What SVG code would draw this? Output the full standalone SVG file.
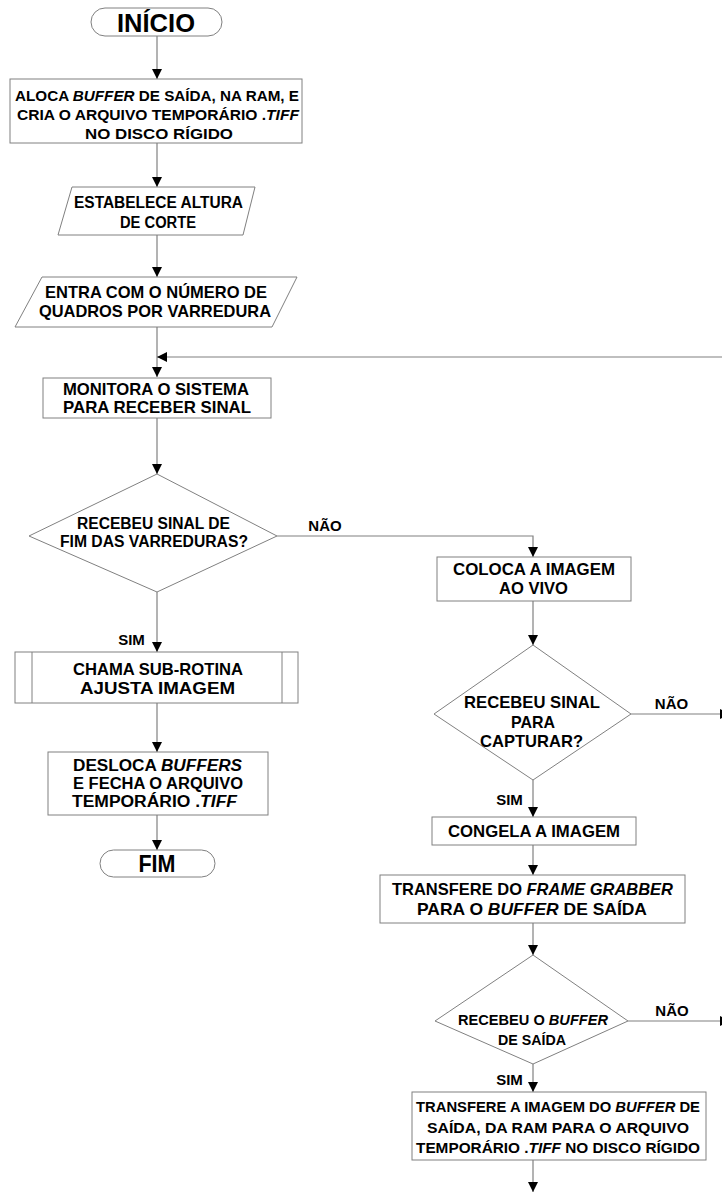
<svg xmlns="http://www.w3.org/2000/svg" width="722" height="1193" viewBox="0 0 722 1193">
<style>
.s{fill:#fff;stroke:#808080;stroke-width:1}
.c{fill:none;stroke:#808080;stroke-width:1.2}
text{font-family:"Liberation Sans",Arial,sans-serif;font-weight:bold;fill:#000;text-anchor:middle}
.i{font-style:italic}
</style>
<defs>
<marker id="arr" viewBox="0 0 10 10" refX="10" refY="5" markerWidth="10" markerHeight="10" orient="auto" markerUnits="userSpaceOnUse">
<path d="M0,0 L10,5 L0,10 z" fill="#000"/>
</marker>
</defs>
<rect width="722" height="1193" fill="#fff"/>
<g id="connectors">
<path class="c" d="M157,36 V79" marker-end="url(#arr)"/>
<path class="c" d="M157,143 V187" marker-end="url(#arr)"/>
<path class="c" d="M157,235 V277" marker-end="url(#arr)"/>
<path class="c" d="M157,327 V377" marker-end="url(#arr)"/>
<path class="c" d="M722,357 H157" marker-end="url(#arr)"/>
<path class="c" d="M157,418 V474" marker-end="url(#arr)"/>
<path class="c" d="M157,592 V652" marker-end="url(#arr)"/>
<path class="c" d="M277,536 H533 V557" marker-end="url(#arr)"/>
<path class="c" d="M157,703 V752" marker-end="url(#arr)"/>
<path class="c" d="M157,815 V850" marker-end="url(#arr)"/>
<path class="c" d="M533,601 V645" marker-end="url(#arr)"/>
<path class="c" d="M631,714 H730" marker-end="url(#arr)"/>
<path class="c" d="M533,780 V817" marker-end="url(#arr)"/>
<path class="c" d="M533,845 V875" marker-end="url(#arr)"/>
<path class="c" d="M533,923 V955" marker-end="url(#arr)"/>
<path class="c" d="M628,1021 H730" marker-end="url(#arr)"/>
<path class="c" d="M533,1064 V1092" marker-end="url(#arr)"/>
<path class="c" d="M533,1160 V1192" marker-end="url(#arr)"/>
</g>
<g id="labels">
<text x="325" y="531" font-size="15">NÃO</text>
<text x="131.5" y="645" font-size="15">SIM</text>
<text x="671.5" y="709" font-size="15">NÃO</text>
<text x="509.5" y="805" font-size="15">SIM</text>
<text x="672" y="1016" font-size="15">NÃO</text>
<text x="509.5" y="1085" font-size="15">SIM</text>
</g>
<g id="inicio">
<rect class="s" x="91" y="8" width="131" height="28" rx="14"/>
<text x="156" y="32" font-size="25" textLength="78" lengthAdjust="spacingAndGlyphs">INÍCIO</text>
</g>
<g id="aloca">
<rect class="s" x="10" y="79" width="292" height="64"/>
<text x="157" y="101" font-size="15.5" textLength="284" lengthAdjust="spacingAndGlyphs">ALOCA <tspan class="i">BUFFER</tspan> DE SAÍDA, NA RAM, E</text>
<text x="158" y="120" font-size="15.5" textLength="282" lengthAdjust="spacingAndGlyphs">CRIA O ARQUIVO TEMPORÁRIO .<tspan class="i">TIFF</tspan></text>
<text x="159" y="139" font-size="15.5" textLength="148" lengthAdjust="spacingAndGlyphs">NO DISCO RÍGIDO</text>
</g>
<g id="altura">
<polygon class="s" points="72,187 255,187 243,235 58,235"/>
<text x="158.5" y="208" font-size="16" textLength="169" lengthAdjust="spacingAndGlyphs">ESTABELECE ALTURA</text>
<text x="158" y="228" font-size="16" textLength="76" lengthAdjust="spacingAndGlyphs">DE CORTE</text>
</g>
<g id="quadros">
<polygon class="s" points="42,277 297,277 272,327 15,327"/>
<text x="156" y="298" font-size="17" textLength="222" lengthAdjust="spacingAndGlyphs">ENTRA COM O NÚMERO DE</text>
<text x="155" y="317" font-size="17" textLength="232" lengthAdjust="spacingAndGlyphs">QUADROS POR VARREDURA</text>
</g>
<g id="monitora">
<rect class="s" x="43" y="378" width="228" height="40"/>
<text x="156" y="395" font-size="16.5" textLength="186" lengthAdjust="spacingAndGlyphs">MONITORA O SISTEMA</text>
<text x="157" y="413" font-size="16.5" textLength="188" lengthAdjust="spacingAndGlyphs">PARA RECEBER SINAL</text>
</g>
<g id="fim-varreduras">
<polygon class="s" points="157,474 277,536 157,592 29,536"/>
<text x="153.5" y="529" font-size="16" textLength="153" lengthAdjust="spacingAndGlyphs">RECEBEU SINAL DE</text>
<text x="154" y="547" font-size="16" textLength="188" lengthAdjust="spacingAndGlyphs">FIM DAS VARREDURAS?</text>
</g>
<g id="coloca">
<rect class="s" x="437" y="557" width="194" height="44"/>
<text x="534" y="575" font-size="17" textLength="162" lengthAdjust="spacingAndGlyphs">COLOCA A IMAGEM</text>
<text x="533.5" y="594" font-size="17" textLength="69" lengthAdjust="spacingAndGlyphs">AO VIVO</text>
</g>
<g id="sub-rotina">
<rect class="s" x="15" y="652" width="283" height="51"/>
<path class="s" d="M32,652 V703 M282,652 V703"/>
<text x="158" y="675" font-size="17" textLength="170" lengthAdjust="spacingAndGlyphs">CHAMA SUB-ROTINA</text>
<text x="157.5" y="694" font-size="17" textLength="155" lengthAdjust="spacingAndGlyphs">AJUSTA IMAGEM</text>
</g>
<g id="desloca">
<rect class="s" x="48" y="752" width="220" height="63"/>
<text x="157.5" y="771" font-size="16" textLength="169" lengthAdjust="spacingAndGlyphs">DESLOCA <tspan class="i">BUFFERS</tspan></text>
<text x="158" y="789" font-size="16" textLength="170" lengthAdjust="spacingAndGlyphs">E FECHA O ARQUIVO</text>
<text x="154.5" y="807" font-size="16" textLength="165" lengthAdjust="spacingAndGlyphs">TEMPORÁRIO .<tspan class="i">TIFF</tspan></text>
</g>
<g id="fim">
<rect class="s" x="100" y="850" width="115" height="27" rx="13.5"/>
<text x="157" y="872" font-size="23" textLength="37" lengthAdjust="spacingAndGlyphs">FIM</text>
</g>
<g id="capturar">
<polygon class="s" points="533,645 631,714 533,780 434,714"/>
<text x="532" y="708" font-size="17" textLength="136" lengthAdjust="spacingAndGlyphs">RECEBEU SINAL</text>
<text x="533" y="728" font-size="17" textLength="44" lengthAdjust="spacingAndGlyphs">PARA</text>
<text x="531.5" y="747" font-size="17" textLength="103" lengthAdjust="spacingAndGlyphs">CAPTURAR?</text>
</g>
<g id="congela">
<rect class="s" x="432" y="817" width="204" height="28"/>
<text x="534" y="837" font-size="17" textLength="172" lengthAdjust="spacingAndGlyphs">CONGELA A IMAGEM</text>
</g>
<g id="transfere-frame">
<rect class="s" x="380" y="875" width="305" height="48"/>
<text x="532.5" y="895" font-size="17" textLength="281" lengthAdjust="spacingAndGlyphs">TRANSFERE DO <tspan class="i">FRAME GRABBER</tspan></text>
<text x="532" y="915" font-size="17" textLength="230" lengthAdjust="spacingAndGlyphs">PARA O <tspan class="i">BUFFER</tspan> DE SAÍDA</text>
</g>
<g id="recebeu-buffer">
<polygon class="s" points="533,955 628,1021 533,1064 435,1021"/>
<text x="533" y="1025" font-size="15.5" textLength="150" lengthAdjust="spacingAndGlyphs">RECEBEU O <tspan class="i">BUFFER</tspan></text>
<text x="532" y="1045" font-size="15.5" textLength="68" lengthAdjust="spacingAndGlyphs">DE SAÍDA</text>
</g>
<g id="transfere-imagem">
<rect class="s" x="412" y="1092" width="294" height="68"/>
<text x="558" y="1112" font-size="15.5" textLength="284" lengthAdjust="spacingAndGlyphs">TRANSFERE A IMAGEM DO <tspan class="i">BUFFER</tspan> DE</text>
<text x="558" y="1133" font-size="15.5" textLength="262" lengthAdjust="spacingAndGlyphs">SAÍDA, DA RAM PARA O ARQUIVO</text>
<text x="558" y="1153" font-size="15.5" textLength="284" lengthAdjust="spacingAndGlyphs">TEMPORÁRIO .<tspan class="i">TIFF</tspan> NO DISCO RÍGIDO</text>
</g>
</svg>
